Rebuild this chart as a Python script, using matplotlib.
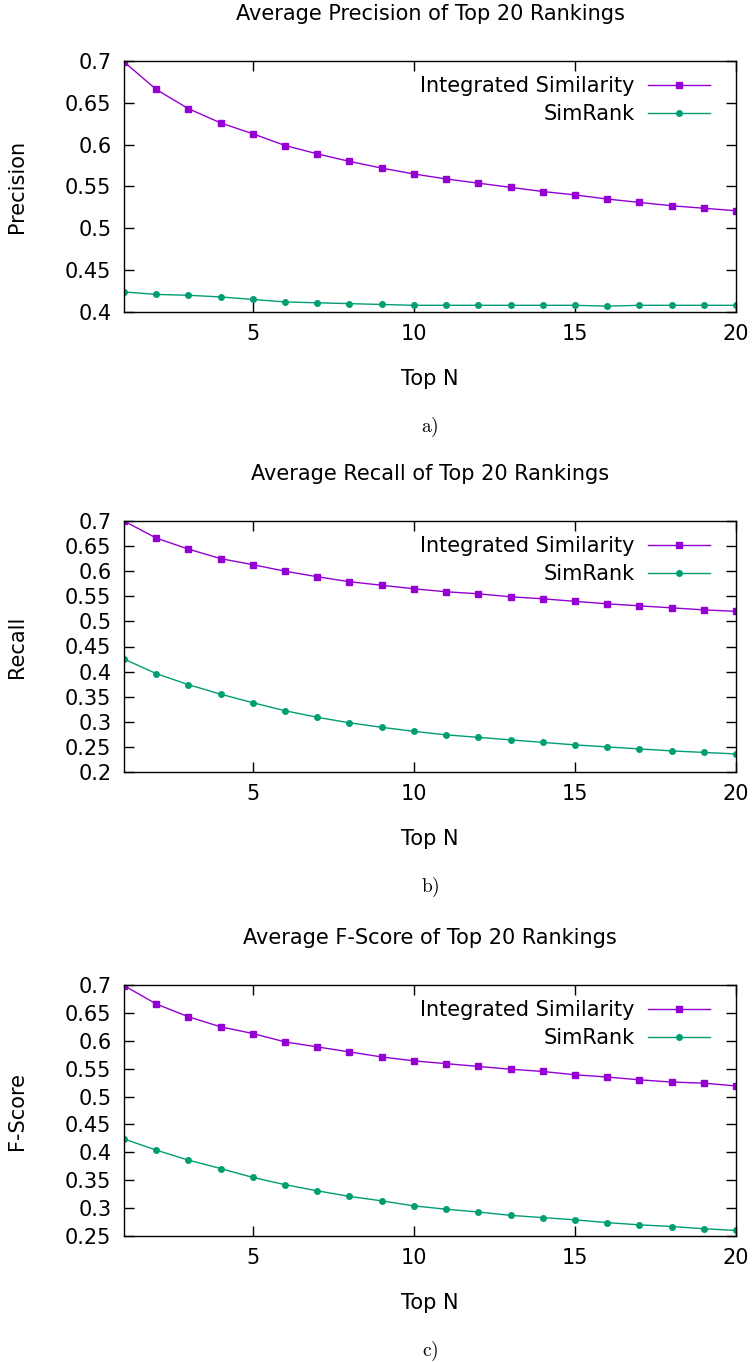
import numpy as np
import matplotlib
matplotlib.use('Agg')
import matplotlib.pyplot as plt

plt.rcParams['font.family'] = 'DejaVu Sans'
plt.rcParams['mathtext.fontset'] = 'cm'

top_n = np.arange(1, 21)

prec_integrated = [0.699, 0.666, 0.643, 0.626, 0.613, 0.599, 0.589, 0.580, 0.572, 0.565,
                   0.559, 0.554, 0.549, 0.544, 0.540, 0.535, 0.531, 0.527, 0.524, 0.521]
prec_simrank = [0.424, 0.421, 0.420, 0.418, 0.415, 0.412, 0.411, 0.410, 0.409, 0.408,
                0.408, 0.408, 0.408, 0.408, 0.408, 0.407, 0.408, 0.408, 0.408, 0.408]

rec_integrated = [0.700, 0.666, 0.644, 0.625, 0.613, 0.600, 0.589, 0.579, 0.572, 0.565,
                  0.559, 0.555, 0.549, 0.545, 0.540, 0.535, 0.531, 0.527, 0.523, 0.520]
rec_simrank = [0.425, 0.396, 0.374, 0.355, 0.338, 0.322, 0.309, 0.298, 0.289, 0.281,
               0.274, 0.269, 0.264, 0.259, 0.254, 0.250, 0.246, 0.242, 0.239, 0.236]

f_integrated = [0.699, 0.666, 0.643, 0.625, 0.613, 0.598, 0.589, 0.580, 0.571, 0.564,
                0.559, 0.554, 0.549, 0.545, 0.539, 0.535, 0.530, 0.526, 0.524, 0.519]
f_simrank = [0.424, 0.404, 0.386, 0.371, 0.355, 0.342, 0.331, 0.321, 0.313, 0.304,
             0.298, 0.293, 0.287, 0.283, 0.279, 0.274, 0.270, 0.267, 0.263, 0.260]

titles = ['Average Precision of Top 20 Rankings',
          'Average Recall of Top 20 Rankings',
          'Average F-Score of Top 20 Rankings']
ylabels = ['Precision', 'Recall', 'F-Score']
sublabels = ['a)', 'b)', 'c)']
ylims = [(0.4, 0.7), (0.2, 0.7), (0.25, 0.7)]
series = [(prec_integrated, prec_simrank),
          (rec_integrated, rec_simrank),
          (f_integrated, f_simrank)]

W, H = 755, 1362
fig = plt.figure(figsize=(W / 100, H / 100), dpi=100)

ax_left, ax_right = 124, 736
ax_bottoms = [312, 772, 1236]
ax_h = 251

fs = 15
for i in range(3):
    ax = fig.add_axes([ax_left / W, 1 - ax_bottoms[i] / H, (ax_right - ax_left) / W, ax_h / H])
    ys_int, ys_sim = series[i]
    ax.plot(top_n, ys_int, color='#9400D3', lw=1, marker='s', ms=4.5,
            label='Integrated Similarity')
    ax.plot(top_n, ys_sim, color='#009E73', lw=1, marker='o', ms=4,
            label='SimRank')
    ax.set_xlim(1, 20)
    ax.set_ylim(*ylims[i])
    ax.set_xticks([5, 10, 15, 20])
    ax.set_yticks(np.arange(ylims[i][0], 0.7001, 0.05))
    ax.yaxis.set_major_formatter(matplotlib.ticker.FuncFormatter(lambda v, p: f'{v:.2f}'.rstrip('0')))
    ax.tick_params(direction='in', top=True, right=True, length=7, width=1,
                   labelsize=fs, pad=9)
    for sp in ax.spines.values():
        sp.set_linewidth(1)

    ax.text(0.5, 1 + 47 / ax_h, titles[i], transform=ax.transAxes,
            ha='center', va='center', fontsize=fs)
    ax.text(0.5, -67 / ax_h, 'Top N', transform=ax.transAxes,
            ha='center', va='center', fontsize=fs)
    ax.text(-107 / 612, 0.5, ylabels[i], transform=ax.transAxes, rotation=90,
            ha='center', va='center', fontsize=fs)
    ax.text(0.5, -115 / ax_h, r'$\mathrm{' + sublabels[i] + '}$', transform=ax.transAxes,
            ha='center', va='center', fontsize=14)

    ax.legend(loc='upper right', bbox_to_anchor=((710 - ax_left) / 612, 1 - 15 / ax_h),
              frameon=False, markerfirst=False, fontsize=fs, borderpad=0,
              borderaxespad=0, handlelength=3.0, handletextpad=0.6,
              labelspacing=0.4)

fig.savefig('out.png', dpi=100)
